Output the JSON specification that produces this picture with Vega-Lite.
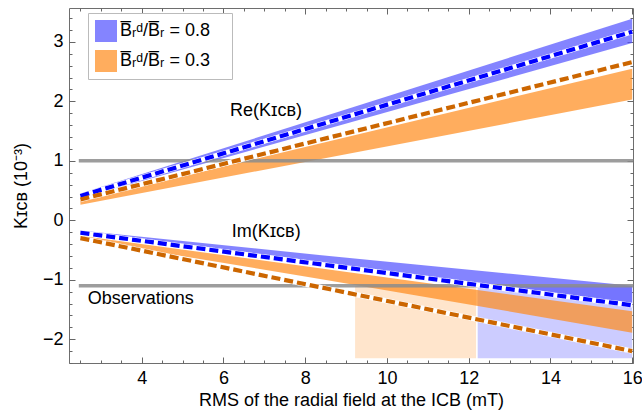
{
  "$schema": "https://vega.github.io/schema/vega-lite/v6.json",
  "width": 564,
  "height": 355,
  "autosize": {"type": "none"},
  "padding": {"left": 69, "top": 8, "right": 9, "bottom": 51},
  "config": {
    "view": {"stroke": "#6e6e6e", "strokeWidth": 1},
    "font": "Liberation Sans",
    "axis": {
      "domain": false, "grid": false, "tickColor": "#666", "tickWidth": 1, "labelFlush": false,
      "labelColor": "black", "labelFont": "Liberation Sans", "labelFontSize": 18,
      "titleFont": "Liberation Sans", "titleFontSize": 18, "titleFontWeight": "normal", "titleColor": "black"
    },
    "text": {"font": "Liberation Sans", "fontSize": 18, "color": "black"}
  },
  "datasets": {
    "rects": [
      {"name": "peach", "x": 9.22, "x2": 12.18, "y": -2.32, "y2": -1.1},
      {"name": "lightblue", "x": 12.22, "x2": 16.0, "y": -2.32, "y2": -1.1}
    ],
    "bands": [
      {"part": "Re", "s": "0.8", "x": 2.5, "lo": 0.37, "hi": 0.45},
      {"part": "Re", "s": "0.8", "x": 16, "lo": 2.98, "hi": 3.39},
      {"part": "Re", "s": "0.3", "x": 2.5, "lo": 0.26, "hi": 0.33},
      {"part": "Re", "s": "0.3", "x": 16, "lo": 2.03, "hi": 2.55},
      {"part": "Im", "s": "0.8", "x": 2.5, "lo": -0.24, "hi": -0.17},
      {"part": "Im", "s": "0.8", "x": 8.4, "lo": -0.78, "hi": -0.59},
      {"part": "Im", "s": "0.8", "x": 16, "lo": -1.47, "hi": -1.10},
      {"part": "Im", "s": "0.3", "x": 2.5, "lo": -0.32, "hi": -0.26},
      {"part": "Im", "s": "0.3", "x": 8.4, "lo": -0.99, "hi": -0.81},
      {"part": "Im", "s": "0.3", "x": 16, "lo": -1.89, "hi": -1.53}
    ],
    "refs": [
      {"name": "Re", "x": 2.46, "x2": 16.03, "y": 1.0},
      {"name": "Obs", "x": 2.46, "x2": 16.03, "y": -1.1}
    ],
    "dashed": [
      {"part": "Re", "s": "0.8", "x": 2.5, "y": 0.41},
      {"part": "Re", "s": "0.8", "x": 16, "y": 3.17},
      {"part": "Re", "s": "0.3", "x": 2.5, "y": 0.35},
      {"part": "Re", "s": "0.3", "x": 16, "y": 2.66},
      {"part": "Im", "s": "0.8", "x": 2.5, "y": -0.21},
      {"part": "Im", "s": "0.8", "x": 16, "y": -1.43},
      {"part": "Im", "s": "0.3", "x": 2.5, "y": -0.30},
      {"part": "Im", "s": "0.3", "x": 16, "y": -2.20}
    ],
    "labels": [
      {"label": "Re(Kɪᴄʙ)", "x": 6.16, "y": 1.83},
      {"label": "Im(Kɪᴄʙ)", "x": 6.2, "y": -0.19},
      {"label": "Observations", "x": 2.68, "y": -1.32}
    ]
  },
  "resolve": {"axis": {"x": "independent", "y": "independent"}},
  "layer": [
    {
      "data": {"name": "rects"},
      "mark": {"type": "rect", "strokeWidth": 0},
      "encoding": {
        "x": {"field": "x", "type": "quantitative",
          "scale": {"domain": [2.22, 16.02], "nice": false, "zero": false},
          "axis": {"orient": "bottom", "values": [4, 6, 8, 10, 12, 14, 16], "tickSize": -6, "labelPadding": 12, "title": "RMS of the radial field at the ICB (mT)", "titlePadding": 4}},
        "x2": {"field": "x2"},
        "y": {"field": "y", "type": "quantitative",
          "scale": {"domain": [-2.4, 3.57], "nice": false, "zero": false},
          "axis": {"orient": "left", "values": [-2, -1, 0, 1, 2, 3], "tickSize": -6, "labelPadding": 12, "title": "Kɪᴄʙ (10⁻³)", "titlePadding": 12}},
        "y2": {"field": "y2"},
        "color": {"field": "name", "type": "nominal",
          "scale": {"domain": ["peach", "lightblue"], "range": ["#FFE5CC", "#CCCCFF"]}, "legend": null}
      }
    },
    {
      "data": {"name": "bands"},
      "mark": {"type": "area", "opacity": 0.7, "strokeWidth": 0},
      "encoding": {
        "x": {"field": "x", "type": "quantitative",
          "scale": {"domain": [2.22, 16.02], "nice": false, "zero": false},
          "axis": {"orient": "bottom", "values": [2.5,3,3.5,4,4.5,5,5.5,6,6.5,7,7.5,8,8.5,9,9.5,10,10.5,11,11.5,12,12.5,13,13.5,14,14.5,15,15.5,16], "tickSize": -3, "labels": false, "title": null}},
        "y": {"field": "lo", "type": "quantitative",
          "scale": {"domain": [-2.4, 3.57], "nice": false, "zero": false},
          "axis": {"orient": "left", "values": [-2.4,-2.2,-2,-1.8,-1.6,-1.4,-1.2,-1,-0.8,-0.6,-0.4,-0.2,0,0.2,0.4,0.6,0.8,1,1.2,1.4,1.6,1.8,2,2.2,2.4,2.6,2.8,3,3.2,3.4], "tickSize": -3, "labels": false, "title": null}},
        "y2": {"field": "hi"},
        "detail": {"field": "part"},
        "fill": {"field": "s", "type": "nominal",
          "scale": {"domain": ["0.8", "0.3"], "range": ["#5050FF", "#FF8A1A"]},
          "legend": {
            "title": null, "orient": "none", "legendX": 19, "legendY": 5,
            "symbolType": "square", "symbolSize": 484, "symbolOpacity": 0.7, "symbolStrokeWidth": 0,
            "labelFontSize": 18, "labelFont": "Liberation Sans", "labelColor": "black", "labelOffset": 3,
            "labelExpr": "'B̅ᵣᵈ/B̅ᵣ = ' + datum.label + '\u00a0\u00a0\u00a0\u200b'",
            "rowPadding": 8, "padding": 7, "strokeColor": "#bbbbbb", "fillColor": "white"
          }}
      }
    },
    {
      "data": {"name": "refs"},
      "mark": {"type": "rule", "color": "#8c8c8c", "opacity": 0.85, "strokeWidth": 3.5},
      "encoding": {
        "x": {"field": "x", "type": "quantitative",
          "scale": {"domain": [2.22, 16.02], "nice": false, "zero": false},
          "axis": {"orient": "top", "values": [4, 6, 8, 10, 12, 14, 16], "tickSize": -6, "labels": false, "title": null}},
        "x2": {"field": "x2"},
        "y": {"field": "y", "type": "quantitative",
          "scale": {"domain": [-2.4, 3.57], "nice": false, "zero": false},
          "axis": {"orient": "right", "values": [-2, -1, 0, 1, 2, 3], "tickSize": -6, "labels": false, "title": null}}
      }
    },
    {
      "data": {"name": "dashed"},
      "mark": {"type": "line", "color": "white", "strokeWidth": 5.2},
      "encoding": {
        "x": {"field": "x", "type": "quantitative",
          "scale": {"domain": [2.22, 16.02], "nice": false, "zero": false},
          "axis": {"orient": "top", "values": [2.5,3,3.5,4,4.5,5,5.5,6,6.5,7,7.5,8,8.5,9,9.5,10,10.5,11,11.5,12,12.5,13,13.5,14,14.5,15,15.5,16], "tickSize": -3, "labels": false, "title": null}},
        "y": {"field": "y", "type": "quantitative",
          "scale": {"domain": [-2.4, 3.57], "nice": false, "zero": false},
          "axis": {"orient": "right", "values": [-2.4,-2.2,-2,-1.8,-1.6,-1.4,-1.2,-1,-0.8,-0.6,-0.4,-0.2,0,0.2,0.4,0.6,0.8,1,1.2,1.4,1.6,1.8,2,2.2,2.4,2.6,2.8,3,3.2,3.4], "tickSize": -3, "labels": false, "title": null}},
        "detail": {"field": "part"},
        "strokeDash": {"field": "s", "type": "nominal", "legend": null, "scale": {"domain": ["0.8", "0.3"], "range": [[1, 0], [1, 0]]}}
      }
    },
    {
      "data": {"name": "dashed"},
      "mark": {"type": "line", "strokeWidth": 4.2, "strokeDash": [9, 4], "strokeCap": "butt"},
      "encoding": {
        "x": {"field": "x", "type": "quantitative", "scale": {"domain": [2.22, 16.02], "nice": false, "zero": false}, "axis": null},
        "y": {"field": "y", "type": "quantitative", "scale": {"domain": [-2.4, 3.57], "nice": false, "zero": false}, "axis": null},
        "detail": {"field": "part"},
        "stroke": {"field": "s", "type": "nominal",
          "scale": {"domain": ["0.8", "0.3"], "range": ["#0000FF", "#CC6600"]}, "legend": null}
      }
    },
    {
      "data": {"name": "labels"},
      "mark": {"type": "text", "align": "left", "baseline": "middle", "fontSize": 18},
      "encoding": {
        "x": {"field": "x", "type": "quantitative", "scale": {"domain": [2.22, 16.02], "nice": false, "zero": false}, "axis": null},
        "y": {"field": "y", "type": "quantitative", "scale": {"domain": [-2.4, 3.57], "nice": false, "zero": false}, "axis": null},
        "text": {"field": "label"}
      }
    }
  ]
}
